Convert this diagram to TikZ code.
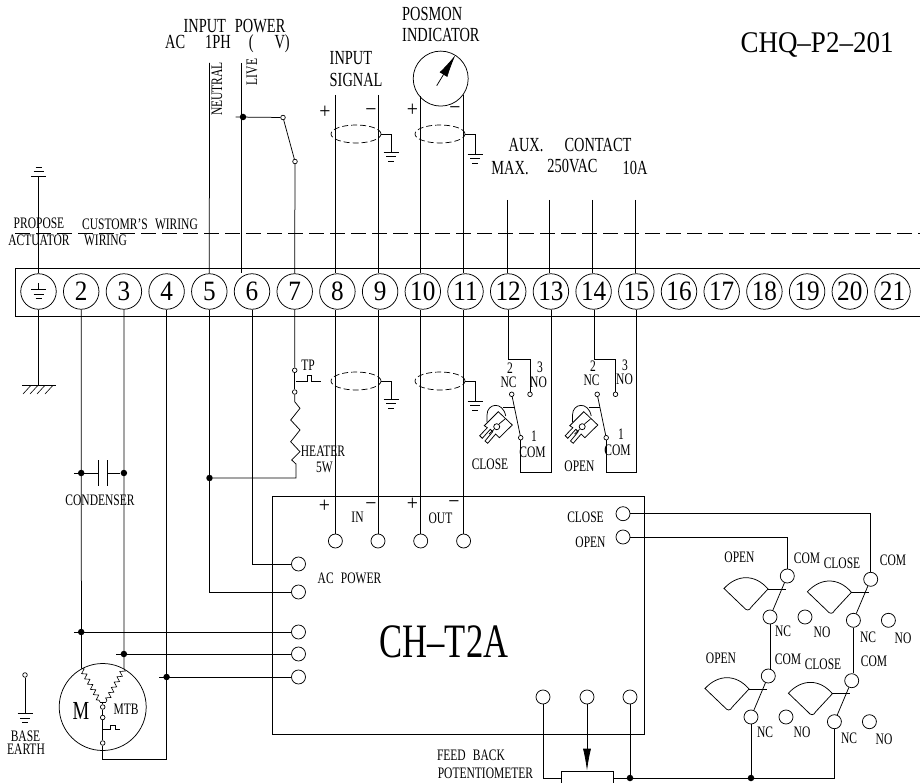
\documentclass[tikz,border=0pt]{standalone}
\usepackage{fontspec}
\setmainfont[FakeStretch=0.72,WordSpace=2.5]{Liberation Serif}
\newfontfamily\digitfont[FakeStretch=0.9]{Liberation Serif}
\usetikzlibrary{arrows.meta,shapes.geometric,decorations.pathmorphing}
\newcommand{\sized}[1]{\fontsize{#1}{#1}\selectfont}
\tikzset{
  wire/.style={line width=.75pt},
  term/.style={draw,circle,minimum size=35.5,inner sep=0,line width=.75pt,font=\digitfont\sized{28}},
  port/.style={draw,circle,minimum size=14,inner sep=0,line width=.75pt},
  con/.style={draw,circle,minimum size=4.6,inner sep=0,line width=.7pt,fill=white},
  dot/.style={circle,fill,minimum size=6.5,inner sep=0},
  shield/.style={draw,dashed,dash pattern=on 6pt off 3pt,ellipse,minimum width=50,minimum height=18,inner sep=0,line width=.7pt},
  big/.style={inner sep=0,font=\sized{20}},
  small/.style={inner sep=0,font=\sized{16}},
  sign/.style={inner sep=0,font=\digitfont\sized{22}},
  gnd/.pic={\draw[wire] (-7.5,0) -- (7.5,0) (-5,4.7) -- (5,4.7) (-3,9) -- (3,9);},
  cam/.pic={
    \draw[wire] (-13.7,-1.3) -- (.3,-15.3) -- (14.3,-2) -- (1.3,10.7) -- (-2.3,7) -- (-10.3,16.3)
      -- (-13,14) -- (-5.3,4.7) -- (-7.7,2.3) -- (-15.7,11.3) -- (-18.3,8.7) -- (-10.7,.7) -- cycle;
    \draw[wire] (-11,-5) -- (-11,-12) .. controls (-11,-24) and (5,-26) .. (7.7,-11);
    \draw[wire] (-1.3,-.3) circle (3);
    \draw[wire] (-9,7) -- (-4,2.5) (1,-3) -- (7,-8);
    \draw[wire] (5.3,-19.3) -- (\arm,-19.3);
  }
}
\begin{document}
\begin{tikzpicture}[x=1pt,y=-1pt]
      \useasboundingbox (0,0) rectangle (920,783);

      %%%%%%%%%%%%%%%%%%%%%%%%%%%%%%%%%%%%%%%%%%%%%%%%%%%%%%%%%%%%%%%%%%%%%%%%%%%
      %%%%  Terminal strip
      \draw[wire] (920,268) -- (15,268) -- (15,316) -- (920,316);
      \draw[wire,dash pattern=on 15pt off 6pt] (15,233) -- (920,233);
      \node[term] (t1) at (38.5,291.5) {};
      \foreach \n in {2,...,21}
      {\pgfmathsetmacro\tx{38.5 + 42.7*(\n-1)}
       \node[term] (t\n) at (\tx,291.5) {\n};
      };
      \pic at (38.7,289.3) {gnd};
      \draw[wire] (38.7,283) -- (38.7,289.3);

      %%%%%%%%%%%%%%%%%%%%%%%%%%%%%%%%%%%%%%%%%%%%%%%%%%%%%%%%%%%%%%%%%%%%%%%%%%%
      %%%%  Customer side
      \coordinate (gtop) at (38.5,176);
      \pic[yscale=-1] at (gtop) {gnd};
      \draw[wire] (gtop) -- (t1.north);
      \coordinate (neutral) at (209.5,63);
      \coordinate (live) at (241.7,63);
      \draw[wire] (neutral) -- (t5.north);
      \draw[wire] (live) -- (live |- t6.north);
      \node[dot] (d6) at (243,117) {};
      \node[con] (sw1) at (283,117.5) {};
      \node[con] (sw2) at (295,161.5) {};
      \draw[wire] (d6.west) ++(-4,0) -- (sw1);
      \draw[wire] (sw1) -- (sw2);
      \draw[wire] (sw2) -- (t7.north);

      \coordinate (sig8) at (335,95);
      \coordinate (sig9) at (378,95);
      \draw[wire] (sig8) -- (sig8 |- t8.north);
      \draw[wire] (sig9) -- (sig9 |- t9.north);

      \node[draw,circle,minimum size=55,inner sep=0,line width=.75pt] (dial) at (440.7,78.6) {};
      \coordinate (dtail) at (436.7,85.7);
      \draw[wire,-{Latex[length=23,width=9]}] (dtail) -- (dial.58);
      \coordinate (p10) at (420.7,96);
      \coordinate (p11) at (463.4,95);
      \draw[wire] (p10) -- (p10 |- t10.north);
      \draw[wire] (p11) -- (p11 |- t11.north);

      \foreach \n/\sx/\sy/\gy in {a/356/134/152,b/440/134/154,c/356/381/399,d/440/381/401}
      {\node[shield] (\n) at (\sx,\sy) {};
       \coordinate (g\n) at ({\sx+35},\gy);
       \draw[wire] (\n.east) -- (g\n |- \n.east) -- (g\n);
       \pic at (g\n) {gnd};
      };

      \foreach \n/\wx in {12/507,13/549.5,14/592.5,15/635}
      {\coordinate (top\n) at (\wx,200);
       \draw[wire] (top\n) -- (top\n |- t\n.north);
      };

      %%%%%%%%%%%%%%%%%%%%%%%%%%%%%%%%%%%%%%%%%%%%%%%%%%%%%%%%%%%%%%%%%%%%%%%%%%%
      %%%%  Chassis earth and motor lines
      \coordinate (gbot) at (38.5,385.3);
      \draw[wire] (t1.south) -- (gbot);
      \draw[wire] (22,385.3) -- (56,385.3);
      \foreach \hx in {23,30,37,45}
      {\draw[line width=.6pt] (\hx,394) -- ({\hx+8},385.3);};

      \node[draw,circle,minimum size=87,inner sep=0,line width=.75pt] (motor) at (102.7,707) {};
      \draw[wire] (t2.south) -- (motor.119);
      \draw[wire] (t3.south) -- (motor.61);
      \coordinate (yl) at (100,702);
      \coordinate (yr) at (106,702);
      \draw[line width=.6pt,decorate,decoration={zigzag,segment length=6,amplitude=2.3}] (motor.119) -- (yl);
      \draw[line width=.6pt,decorate,decoration={zigzag,segment length=6,amplitude=2.3}] (motor.61) -- (yr);
      \draw[wire] (yl) -- (yr);
      \node[con] (m1) at (102.7,707) {};
      \node[con] (m2) at (102.7,717.5) {};
      \node[con] (m3) at (102.7,743) {};
      \draw[wire] (102.7,702) -- (m1);
      \draw[wire] (m1) -- (m2);
      \draw[wire] (m2) -- (m3);
      \draw[wire] (102.5,729.5) -- (110,729.5) -- (110,725) -- (115,725) -- (115,729.5) -- (120,729.5);
      \coordinate (mc) at (102.7,759);
      \draw[wire] (t4.south) |- (mc) -- (m3);

      \node[dot] (cap2) at (81.2,473) {};
      \node[dot] (cap3) at (123.9,473) {};
      \coordinate (pl1) at (98.5,473);
      \coordinate (pl2) at (107,473);
      \draw[wire] (cap2.west) ++(-4,0) -- (pl1);
      \draw[wire] (pl2) -- (cap3);
      \draw[wire] (98.5,460) -- (98.5,486) (107,460) -- (107,486);

      \node[con] (base) at (25,675) {};
      \coordinate (bg) at (25,713.5);
      \draw[wire] (base) -- (bg);
      \pic at (bg) {gnd};

      %%%%%%%%%%%%%%%%%%%%%%%%%%%%%%%%%%%%%%%%%%%%%%%%%%%%%%%%%%%%%%%%%%%%%%%%%%%
      %%%%  Thermostat and heater
      \node[con] (tp1) at (294.7,370.3) {};
      \node[con] (tp2) at (294.7,392) {};
      \draw[wire] (t7.south) -- (tp1);
      \draw[wire] (tp1) -- (tp2);
      \draw[wire] (295.5,381) -- (307,381) -- (307,375) -- (311,375) -- (311,381) -- (321,381);
      \node[dot] (d5) at (209.5,478) {};
      \draw[wire] (tp2) -- (294.7,401.7) -- (300,408.3) -- (290.7,420) -- (300,430) -- (290.7,441.7)
        -- (300,451.7) -- (291.7,460) -- (296,464) |- (d5);

      %%%%%%%%%%%%%%%%%%%%%%%%%%%%%%%%%%%%%%%%%%%%%%%%%%%%%%%%%%%%%%%%%%%%%%%%%%%
      %%%%  Limit switches at the strip
      \foreach \s/\ux/\cx/\tn/\bn/\ax in {l/0/498/12/13/17,r/85.5/583.5/14/15/16}
      {\node[con] (nc\s) at ({511.7+\ux},394.3) {};
       \node[con] (no\s) at ({530+\ux},394.3) {};
       \node[con] (cm\s) at ({520.7+\ux},437.7) {};
       \draw[wire] (nc\s) -- (cm\s);
       \def\arm{\ax}
       \pic at (\cx,427) {cam};
       \coordinate (tl\s) at ({508.7+\ux},359);
       \coordinate (bl\s) at ({551+\ux},472);
       \draw[wire] (tl\s |- t\tn.south) -- (tl\s) -| (no\s);
       \draw[wire] (bl\s |- t\bn.south) -- (bl\s) -| (cm\s);
      };

      %%%%%%%%%%%%%%%%%%%%%%%%%%%%%%%%%%%%%%%%%%%%%%%%%%%%%%%%%%%%%%%%%%%%%%%%%%%
      %%%%  Module
      \node[draw,rectangle,line width=.75pt,minimum width=372,minimum height=238.5,inner sep=0] (box) at (458,615.2) {};
      \foreach \n/\px in {8/335.4,9/378,10/420.7,11/463.6}
      {\node[port] (in\n) at (\px,541) {};
       \draw[wire] (in\n |- t\n.south) -- (in\n);
      };
      \node[port] (pac1) at (298.5,564) {};
      \node[port] (pac2) at (298.5,592) {};
      \draw[wire] (t6.south) |- (pac1);
      \draw[wire] (t5.south) |- (pac2);
      \foreach \n/\ly/\dx/\dy in {1/632/81.2/632,2/654/123.9/654,3/677/166.6/677}
      {\node[port] (pm\n) at (298.5,\ly) {};
       \node[dot] (dm\n) at (\dx,\dy) {};
       \draw[wire] (dm\n.west) ++(-4,0) -- (pm\n);
      };
      \node[port] (pclose) at (623,513.7) {};
      \node[port] (popen) at (623,537) {};
      \foreach \n/\px in {1/543,2/587,3/630}
      {\node[port] (fb\n) at (\px,697) {};};

      \node[draw,rectangle,line width=.75pt,minimum width=52,minimum height=14,inner sep=0] (pot) at (587,778) {};
      \node[dot] (dfb) at (630,778) {};
      \draw[wire] (fb1) |- (pot.west);
      \draw[wire,-{Latex[length=22,width=8]}] (fb2) -- (pot.north);
      \draw[wire] (fb3) -- (dfb);

      %%%%%%%%%%%%%%%%%%%%%%%%%%%%%%%%%%%%%%%%%%%%%%%%%%%%%%%%%%%%%%%%%%%%%%%%%%%
      %%%%  Torque and travel switches
      \foreach \s/\cx/\cy in {a/787.3/576,b/870.7/579.3,c/768.3/676,d/851.7/680.7}
      {\node[port] (com\s) at (\cx,\cy) {};
       \node[port] (nc\s) at ({\cx-17.3},{\cy+41}) {};
       \node[port] (no\s) at ({\cx+17.7},{\cy+41}) {};
       \draw[wire] (com\s) -- (nc\s);
       \draw[wire] ({\cx-63.3},{\cy+12.5}) .. controls ({\cx-50},{\cy-2}) and ({\cx-32},{\cy-2}) .. ({\cx-19.3},{\cy+13})
         -- ({\cx-36},{\cy+31}) .. controls ({\cx-38},{\cy+35}) and ({\cx-41},{\cy+35}) .. ({\cx-44},{\cy+31}) -- cycle;
       \draw[wire] ({\cx-19.3},{\cy+13}) -- ({\cx-1.7},{\cy+13});
      };
      \draw[wire] (pclose) -| (comb);
      \draw[wire] (popen) -| (coma);
      \draw[wire] (nca.south) -- (nca.south |- comc.north);
      \draw[wire] (ncb.south) -- (ncb.south |- comd.north);
      \coordinate (ncorner) at (ncd |- pot.east);
      \node[dot] (dsw) at (ncc |- pot.east) {};
      \draw[wire] (ncc) -- (dsw);
      \draw[wire] (pot.east) -- (ncorner) -- (ncd);

      %%%%%%%%%%%%%%%%%%%%%%%%%%%%%%%%%%%%%%%%%%%%%%%%%%%%%%%%%%%%%%%%%%%%%%%%%%%
      %%%%  Labels
      \node[big] (l1) at (234.5,25.7) {INPUT POWER};
      \node[big,anchor=west] (l2) at (165,44) {AC\hspace{20pt}1PH\hspace{18pt}(\hspace{21pt}V)};
      \node[big,anchor=west] (l3) at (329.5,58) {INPUT};
      \node[big,anchor=west] (l4) at (329.5,80) {SIGNAL};
      \node[big,anchor=west] (l5) at (402,14) {POSMON};
      \node[big,anchor=west] (l6) at (402,35) {INDICATOR};
      \node[big] (l7) at (526,145) {AUX.};
      \node[big] (l8) at (598,145) {CONTACT};
      \node[big] (l9) at (510,168.5) {MAX.};
      \node[big] (l10) at (572.5,166.5) {250VAC};
      \node[big] (l11) at (635,168) {10A};
      \node[sign] (l12) at (325,112.5) {+};
      \node[sign] (l13) at (371,113) {−};
      \node[sign] (l14) at (412.5,110.5) {+};
      \node[sign] (l15) at (455,111) {−};
      \node[inner sep=0,font=\digitfont\sized{30}] (title) at (817,45) {CHQ–P2–201};
      \node[inner sep=0,font=\sized{48}] (model) at (444,642) {CH–T2A};
      \node[small,rotate=90] (l16) at (217,89) {NEUTRAL};
      \node[small,rotate=90] (l17) at (252,72) {LIVE};
      \node[small] (l18) at (39,223) {PROPOSE};
      \node[small] (l19) at (140,224) {CUSTOMR'S WIRING};
      \node[small] (l20) at (39,240) {ACTUATOR};
      \node[small] (l21) at (105.5,240) {WIRING};
      \node[small] (l22) at (100,500) {CONDENSER};
      \node[small] (l23) at (308,365) {TP};
      \node[small] (l24) at (323,451) {HEATER};
      \node[small] (l25) at (324.5,467) {5W};
      \node[small] (l26) at (510,368) {2};
      \node[small] (l27) at (508.5,382) {NC};
      \node[small] (l28) at (540,367) {3};
      \node[small] (l29) at (538.5,382) {NO};
      \node[small] (l30) at (534,436) {1};
      \node[small] (l31) at (532.5,452) {COM};
      \node[small] (l32) at (490,464) {CLOSE};
      \node[small] (l33) at (593,366) {2};
      \node[small] (l34) at (591.5,380.5) {NC};
      \node[small] (l35) at (625,365) {3};
      \node[small] (l36) at (624.5,379) {NO};
      \node[small] (l37) at (621,434) {1};
      \node[small] (l38) at (617.5,450) {COM};
      \node[small] (l39) at (579.5,466) {OPEN};
      \node[sign] (l40) at (324.5,506.5) {+};
      \node[sign] (l41) at (371,507) {−};
      \node[sign] (l42) at (412.5,504.5) {+};
      \node[sign] (l43) at (454,505) {−};
      \node[small] (l44) at (357.5,517) {IN};
      \node[small] (l45) at (440.5,518) {OUT};
      \node[small] (l46) at (585.5,517) {CLOSE};
      \node[small] (l47) at (590.5,542) {OPEN};
      \node[small] (l48) at (349.5,578) {AC POWER};
      \node[small] (l49) at (471,755) {FEED BACK};
      \node[small] (l50) at (485.5,773) {POTENTIOMETER};
      \node[inner sep=0,font=\sized{26}] (l51) at (81,711) {M};
      \node[small] (l52) at (126,709) {MTB};
      \node[small] (l53) at (25.5,736) {BASE};
      \node[small] (l54) at (26,749) {EARTH};
      \node[small] (l55) at (739.5,557) {OPEN};
      \node[small] (l56) at (807,558) {COM};
      \node[small] (l57) at (842,563) {CLOSE};
      \node[small] (l58) at (893,560) {COM};
      \node[small] (l59) at (783,631) {NC};
      \node[small] (l60) at (822,632) {NO};
      \node[small] (l61) at (868,637) {NC};
      \node[small] (l62) at (903,638) {NO};
      \node[small] (l63) at (721,658) {OPEN};
      \node[small] (l64) at (788,659) {COM};
      \node[small] (l65) at (823,664) {CLOSE};
      \node[small] (l66) at (874,661) {COM};
      \node[small] (l67) at (765,732) {NC};
      \node[small] (l68) at (802,732) {NO};
      \node[small] (l69) at (849,738) {NC};
      \node[small] (l70) at (884,739) {NO};
    \end{tikzpicture}
\end{document}
